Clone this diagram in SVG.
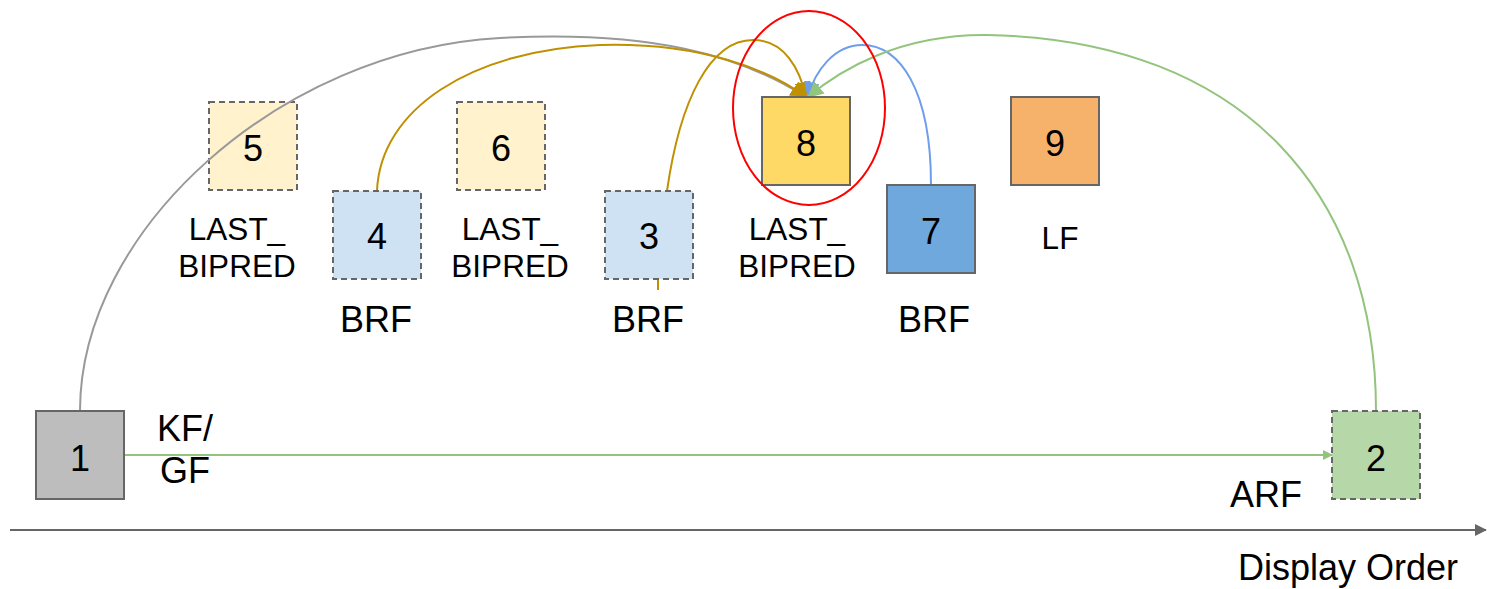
<svg xmlns="http://www.w3.org/2000/svg" width="1487" height="589" viewBox="0 0 1487 589">
<style>
.box{stroke:#666;stroke-width:2}
.dash{stroke-dasharray:6,4}
.num{font-family:"Liberation Sans",Arial,sans-serif;font-size:36px;text-anchor:middle;fill:#000}
.lbl{font-family:"Liberation Sans",Arial,sans-serif;font-size:36px;text-anchor:middle;fill:#000}
.sm{font-family:"Liberation Sans",Arial,sans-serif;font-size:31.5px;text-anchor:middle;fill:#000}
.c{fill:none;stroke-width:2}
</style>
<defs>
<marker id="ag" markerWidth="10" markerHeight="10" refX="9" refY="5" orient="auto" markerUnits="userSpaceOnUse" viewBox="0 0 10 10"><path d="M0,0 L10,5 L0,10 z" fill="#93c47d"/></marker>
<marker id="agr" markerWidth="16" markerHeight="16" refX="15" refY="8" orient="auto" markerUnits="userSpaceOnUse" viewBox="0 0 16 16"><path d="M0,0 L16,8 L0,16 z" fill="#999"/></marker>
<marker id="ago" markerWidth="16" markerHeight="16" refX="15" refY="8" orient="auto" markerUnits="userSpaceOnUse" viewBox="0 0 16 16"><path d="M0,0 L16,8 L0,16 z" fill="#bf9000"/></marker>
<marker id="abl" markerWidth="16" markerHeight="16" refX="15" refY="8" orient="auto" markerUnits="userSpaceOnUse" viewBox="0 0 16 16"><path d="M0,0 L16,8 L0,16 z" fill="#6d9eeb"/></marker>
<marker id="agn" markerWidth="16" markerHeight="16" refX="15" refY="8" orient="auto" markerUnits="userSpaceOnUse" viewBox="0 0 16 16"><path d="M0,0 L16,8 L0,16 z" fill="#93c47d"/></marker>
<marker id="aax" markerWidth="12" markerHeight="12" refX="11" refY="6" orient="auto" markerUnits="userSpaceOnUse" viewBox="0 0 12 12"><path d="M0,0 L12,6 L0,12 z" fill="#666"/></marker>
</defs>

<g id="axis">
<line x1="10" y1="530" x2="1486" y2="530" stroke="#666" stroke-width="2" marker-end="url(#aax)"/>
<text class="lbl" x="1348" y="580" font-size="37">Display Order</text>
</g>

<g id="n5"><rect class="box dash" x="209" y="102" width="88" height="88" fill="#fff2cc"/><text class="num" x="253" y="161">5</text>
<text class="sm" x="237" y="240">LAST_</text><text class="sm" x="237" y="277">BIPRED</text></g>
<g id="n6"><rect class="box dash" x="457" y="102" width="88" height="88" fill="#fff2cc"/><text class="num" x="501" y="161">6</text>
<text class="sm" x="510" y="240">LAST_</text><text class="sm" x="510" y="277">BIPRED</text></g>
<g id="n9"><rect class="box" x="1011" y="97" width="88" height="88" fill="#f6b26b"/><text class="num" x="1055" y="156">9</text>
<text class="sm" x="1060" y="249">LF</text></g>

<g id="connectors">
<path class="c" d="M124,455 L1332,455" stroke="#93c47d" marker-end="url(#ag)"/>
<path class="c" d="M80,411 C80,230 280,50 500,38 C650,30 740,55 806,97" stroke="#999" marker-end="url(#agr)"/>
<path class="c" d="M377,191 C380,110 470,50 600,45 C700,42 770,70 806,97" stroke="#bf9000" marker-end="url(#ago)"/>
<path class="c" d="M658,290 L658,279" stroke="#bf9000"/>
<path class="c" d="M667,191 C680,100 710,40 753,40 C785,40 800,70 806,97" stroke="#bf9000" marker-end="url(#ago)"/>
<path class="c" d="M931,185 C931,90 900,45 862,45 C835,45 815,70 808,97" stroke="#6d9eeb" marker-end="url(#abl)"/>
<path class="c" d="M1376,411 C1376,200 1250,40 987,35 C900,34 840,70 808,97" stroke="#93c47d" marker-end="url(#agn)"/>
</g>

<g id="n1"><rect class="box" x="36" y="411" width="88" height="88" fill="#bdbdbd"/><text class="num" x="80" y="471">1</text>
<text class="lbl" x="185" y="441">KF/</text><text class="lbl" x="185" y="483">GF</text></g>
<g id="n2"><rect class="box dash" x="1332" y="411" width="88" height="88" fill="#b6d7a8"/><text class="num" x="1376" y="471">2</text>
<text class="lbl" x="1266" y="507">ARF</text></g>
<g id="n4"><rect class="box dash" x="333" y="191" width="88" height="88" fill="#cfe2f3"/><text class="num" x="377" y="249">4</text>
<text class="lbl" x="376" y="332">BRF</text></g>
<g id="n3"><rect class="box dash" x="605" y="191" width="88" height="88" fill="#cfe2f3"/><text class="num" x="649" y="249">3</text>
<text class="lbl" x="648" y="332">BRF</text></g>
<g id="n8"><rect class="box" x="762" y="97" width="88" height="88" fill="#ffd966"/><text class="num" x="806" y="156">8</text>
<text class="sm" x="797" y="240">LAST_</text><text class="sm" x="797" y="277">BIPRED</text></g>
<g id="n7"><rect class="box" x="887" y="185" width="88" height="88" fill="#6fa8dc"/><text class="num" x="931" y="244">7</text>
<text class="lbl" x="934" y="332">BRF</text></g>
<g id="highlight"><ellipse cx="809" cy="108" rx="76" ry="97" fill="none" stroke="#ff0000" stroke-width="2"/></g>
</svg>
